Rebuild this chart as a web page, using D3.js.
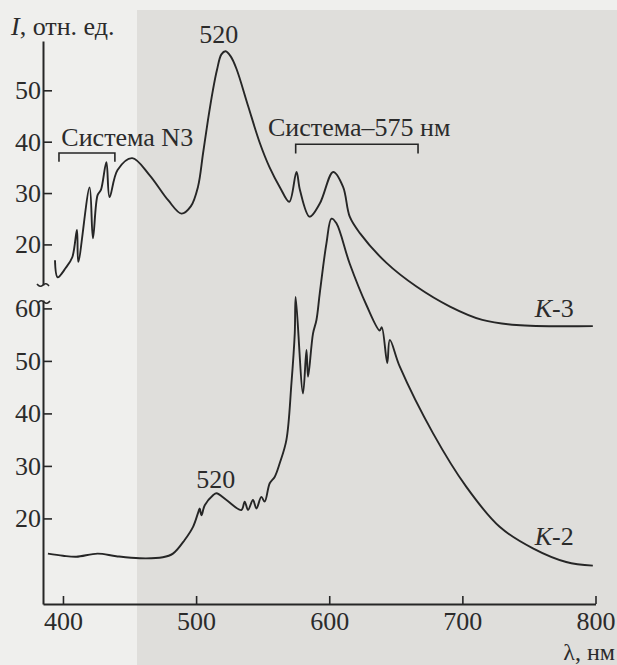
<!DOCTYPE html>
<html>
<head>
<meta charset="utf-8">
<script src="https://cdn.jsdelivr.net/npm/d3@7"></script>
<style>
  body { margin: 0; background: #ededeb; }
  svg text { font-family: "Liberation Serif", "Times New Roman", "DejaVu Serif", serif; }
  .curve { fill: none; stroke: #262626; stroke-width: 1.9; }
</style>
</head>
<body>
<div class="canvas"></div>
<script>
// K-3 spectrum (upper panel)
const k3Wl = [394, 396, 402, 407, 410.5, 411.5, 420, 422.5, 426, 428.5, 432.6, 435, 441, 452, 465, 479, 489, 496, 501.4, 505.2, 508.9, 512.6, 515.7, 519, 522.2, 526, 530.3, 539, 547.8, 555.2, 563, 570, 575.4, 578, 585.3, 593, 603, 610.4, 615.4, 623, 643, 665.5, 690.7, 715, 740.6, 798];
const k3I  = [16.9, 13.6, 15.4, 17.5, 22.8, 16.6, 31.1, 21.2, 29.6, 30.6, 36, 29.2, 34.5, 36.8, 33.5, 28.6, 26, 27.4, 31.2, 37.7, 44.2, 50, 54, 57, 57.6, 56.6, 54.2, 47, 39.8, 35, 31.1, 28.3, 34.1, 30.6, 25.4, 28, 34.1, 31.2, 25.4, 22.2, 16.4, 11.8, 7.9, 5.3, 4.3, 4.1];

// K-2 spectrum (lower panel)
const k2Wl = [388.7, 400, 410, 426, 440, 457.6, 475, 482.6, 491.4, 497.7, 501.4, 502.7, 504, 506.5, 512.7, 515.3, 522.8, 534, 536.5, 539, 542.7, 545.3, 549, 551.5, 555.3, 559, 562.8, 567.8, 571.6, 574.1, 574.8, 580.3, 582.9, 584.1, 587.8, 590.4, 592.9, 597.9, 601.7, 605.4, 615.4, 628, 637.9, 639.5, 643.6, 645.5, 653, 678, 703, 728, 753, 778, 798];
const k2I  = [13.3, 12.9, 12.7, 13.3, 12.8, 12.4, 12.6, 13.3, 15.9, 18.4, 21, 21.9, 20.6, 22.5, 24.4, 24.8, 23.5, 21.6, 23.2, 21.6, 23.5, 21.9, 24.1, 23.2, 26.7, 27.9, 30.5, 34.9, 45.7, 55.2, 62.2, 43.8, 52.1, 47, 55.2, 57.8, 62.9, 72.4, 77.1, 76.2, 68.5, 60.6, 55.8, 56.4, 49.6, 54, 48.9, 36.2, 26, 18.4, 14.3, 11.7, 11];

const xTicks = [400, 500, 600, 700, 800];
const yTicksTop = [20, 30, 40, 50];
const yTicksBottom = [20, 30, 40, 50, 60];

const width = 617;
const height = 665;
const ink = '#262626';
const serif = '"Liberation Serif", "Times New Roman", "DejaVu Serif", serif';
const fs = 26;

const svg = d3.select('.canvas')
    .append('svg')
    .attr('width', width)
    .attr('height', height)
    .attr('font-family', serif);

// scanned page background
svg.append('rect').attr('width', width).attr('height', height).attr('fill', '#efefed');
svg.append('rect').attr('x', 137).attr('y', 10).attr('width', width - 137).attr('height', height - 10).attr('fill', '#dfdedb');

const x = d3.scaleLinear().domain([385, 800]).range([43, 595.5]);
const yTop = d3.scaleLinear().domain([12.1, 59.6]).range([285, 41]);
const yBot = d3.scaleLinear().domain([3.7, 61.6]).range([604, 300]);

////////// AXES //////////
const xAxis = d3.axisBottom(x).tickValues(xTicks).tickSizeInner(-8).tickSizeOuter(0).tickPadding(8);
svg.append('g').attr('transform', `translate(0, ${yBot.range()[0]})`).call(xAxis);

svg.append('g').attr('transform', `translate(${x.range()[0]}, 0)`)
    .call(d3.axisLeft(yTop).tickValues(yTicksTop).tickSizeInner(-9).tickSizeOuter(0).tickPadding(2));
svg.append('g').attr('transform', `translate(${x.range()[0]}, 0)`)
    .call(d3.axisLeft(yBot).tickValues(yTicksBottom).tickSizeInner(-9).tickSizeOuter(0).tickPadding(2));

svg.selectAll('g').attr('font-family', serif).attr('font-size', fs);
svg.selectAll('.domain').attr('stroke', ink).attr('stroke-width', 2);
svg.selectAll('.tick line').attr('stroke', ink).attr('stroke-width', 1.6);
svg.selectAll('.tick text').attr('fill', '#2b2b2b');

// axis breaks
const x0 = x.range()[0];
svg.append('path')
    .attr('d', `M${x0 - 6},${yTop.range()[0] - 1} q3,4 6,1 q3,-3 6,1`)
    .attr('fill', 'none').attr('stroke', ink).attr('stroke-width', 1.6);
svg.append('path')
    .attr('d', `M${x0 - 5},${yBot.range()[1] + 3} q3,-4 6,-1 q3,3 6,-1`)
    .attr('fill', 'none').attr('stroke', ink).attr('stroke-width', 1.6);

////////// CURVES //////////
const line = d3.line().curve(d3.curveCatmullRom.alpha(0.5));

svg.append('path')
    .attr('class', 'curve')
    .attr('d', line(k3Wl.map((w, i) => [x(w), yTop(k3I[i])])));

svg.append('path')
    .attr('class', 'curve')
    .attr('d', line(k2Wl.map((w, i) => [x(w), yBot(k2I[i])])));

////////// ANNOTATIONS //////////
const txt = (px, py, s, anchor, size) => svg.append('text')
    .attr('x', px).attr('y', py)
    .attr('font-size', size || fs)
    .attr('text-anchor', anchor || 'start')
    .attr('fill', '#2b2b2b')
    .text(s);

// y title
const yt = txt(11, 35, '');
yt.append('tspan').attr('font-style', 'italic').text('I');
yt.append('tspan').text(', отн. ед.');

// x title
txt(615, 660, 'λ, нм', 'end', 24);

txt(x(517), yTop(59.2), '520', 'middle');
txt(x(398.8), yTop(39.1), 'Система N3');
txt(x(554), yTop(41.1), 'Система–575 нм');
txt(x(500.2), yBot(25.8), '520');

const k3 = txt(x(754.3), yTop(5.9), '');
k3.append('tspan').attr('font-style', 'italic').text('K');
k3.append('tspan').text('-3');
const k2 = txt(x(754.3), yBot(14.9), '');
k2.append('tspan').attr('font-style', 'italic').text('K');
k2.append('tspan').text('-2');

// brackets
const bracket = (w1, w2, v1, v2) => svg.append('path')
    .attr('d', `M${x(w1)},${yTop(v2)} V${yTop(v1)} H${x(w2)} V${yTop(v2)}`)
    .attr('fill', 'none').attr('stroke', ink).attr('stroke-width', 1.6);
bracket(397, 439, 37.8, 36.1);
bracket(574.8, 666.7, 39.5, 37.7);
</script>
</body>
</html>
